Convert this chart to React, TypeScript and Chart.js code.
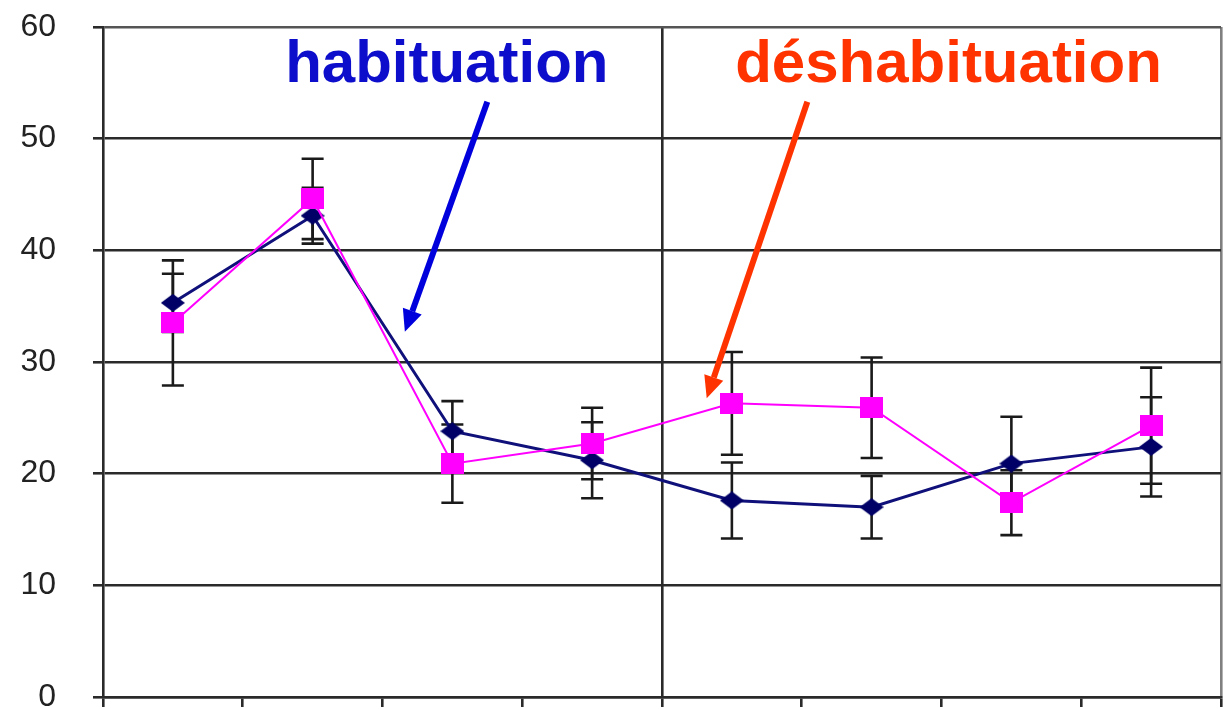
import React, { useEffect, useRef } from "react";
import { Chart, registerables } from "chart.js";

Chart.register(...registerables);

const categories = ["1", "2", "3", "4", "5", "6", "7", "8"];
const habituation = [35.3, 43.1, 23.8, 21.2, 17.6, 17.0, 20.9, 22.4];
const habituationErr = [2.6, 2.5, 2.7, 3.4, 3.4, 2.8, 4.2, 4.45];
const deshabituation = [33.5, 44.6, 20.9, 22.7, 26.3, 25.9, 17.4, 24.3];
const deshabituationErr = [5.6, 3.6, 3.5, 3.2, 4.6, 4.5, 2.9, 5.2];
const yTicks = [0, 10, 20, 30, 40, 50, 60];

const annotations = [
  { text: "habituation", color: "#0d0dcc", arrowColor: "#0000dd", tx: 1.96, ty: 55.07, fromX: 2.25, fromY: 53.3, toX: 1.66, toY: 32.7 },
  { text: "déshabituation", color: "#ff3300", arrowColor: "#ff3300", tx: 5.55, ty: 55.07, fromX: 4.54, fromY: 53.3, toX: 3.82, toY: 26.75 },
];

function makeDiamond(w: number, h: number, color: string) {
  const c = document.createElement("canvas");
  c.width = w;
  c.height = h;
  const g = c.getContext("2d")!;
  g.fillStyle = color;
  g.beginPath();
  g.moveTo(w / 2, 0);
  g.lineTo(w, h / 2);
  g.lineTo(w / 2, h);
  g.lineTo(0, h / 2);
  g.closePath();
  g.fill();
  return c;
}

function makeSquare(w: number, h: number, color: string) {
  const c = document.createElement("canvas");
  c.width = w;
  c.height = h;
  const g = c.getContext("2d")!;
  g.fillStyle = color;
  g.fillRect(0, 0, w, h);
  return c;
}

const errorBarPlugin = {
  id: "errorBars",
  beforeDatasetsDraw(chart: any) {
    const { ctx, scales } = chart;
    const x = scales.x;
    const y = scales.y;
    ctx.save();
    ctx.strokeStyle = "#1a1a1a";
    ctx.lineWidth = 2.6;
    const draw = (vals: number[], errs: number[]) => {
      vals.forEach((v, i) => {
        const px = x.getPixelForValue(i);
        const top = y.getPixelForValue(v + errs[i]);
        const bot = y.getPixelForValue(v - errs[i]);
        ctx.beginPath();
        ctx.moveTo(px, top);
        ctx.lineTo(px, bot);
        ctx.moveTo(px - 11, top);
        ctx.lineTo(px + 11, top);
        ctx.moveTo(px - 11, bot);
        ctx.lineTo(px + 11, bot);
        ctx.stroke();
      });
    };
    draw(habituation, habituationErr);
    draw(deshabituation, deshabituationErr);
    ctx.restore();
  },
};

const annotationPlugin = {
  id: "annots",
  afterDraw(chart: any) {
    const { ctx, scales } = chart;
    const x = scales.x;
    const y = scales.y;
    const px = (v: number) => {
      const a = x.getPixelForValue(0);
      const b = x.getPixelForValue(1);
      return a + (b - a) * v;
    };
    ctx.save();
    annotations.forEach((a) => {
      ctx.font = "bold 60px 'Liberation Sans', Arial, sans-serif";
      ctx.fillStyle = a.color;
      ctx.textAlign = "center";
      ctx.textBaseline = "alphabetic";
      ctx.fillText(a.text, px(a.tx), y.getPixelForValue(a.ty));
      const x1 = px(a.fromX), y1 = y.getPixelForValue(a.fromY);
      const x2 = px(a.toX), y2 = y.getPixelForValue(a.toY);
      const ang = Math.atan2(y2 - y1, x2 - x1);
      const headLen = 22;
      const headW = 10;
      const bx = x2 - Math.cos(ang) * headLen;
      const by = y2 - Math.sin(ang) * headLen;
      ctx.strokeStyle = a.arrowColor;
      ctx.fillStyle = a.arrowColor;
      ctx.lineWidth = 6;
      ctx.lineCap = "butt";
      ctx.beginPath();
      ctx.moveTo(x1, y1);
      ctx.lineTo(bx, by);
      ctx.stroke();
      ctx.beginPath();
      ctx.moveTo(x2, y2);
      ctx.lineTo(bx + Math.sin(ang) * headW, by - Math.cos(ang) * headW);
      ctx.lineTo(bx - Math.sin(ang) * headW, by + Math.cos(ang) * headW);
      ctx.closePath();
      ctx.fill();
    });
    ctx.restore();
  },
};

export default function App() {
  const ref = useRef<HTMLCanvasElement | null>(null);
  useEffect(() => {
    if (!ref.current) return;
    const diamond = makeDiamond(24, 18, "#000066");
    const square = makeSquare(23, 21, "#ff00ff");
    const chart = new Chart(ref.current, {
      type: "line",
      data: {
        labels: categories,
        datasets: [
          {
            label: "déshabituation",
            data: deshabituation,
            borderColor: "#ff00ff",
            borderWidth: 2,
            pointStyle: square as any,
            pointRadius: 11,
            tension: 0,
          },
          {
            label: "habituation",
            data: habituation,
            borderColor: "#10107a",
            borderWidth: 3,
            pointStyle: diamond as any,
            pointRadius: 11,
            tension: 0,
          },
        ],
      },
      options: {
        animation: false,
        responsive: false,
        devicePixelRatio: 1,
        layout: { autoPadding: false, padding: { top: 27, right: 6, left: 0, bottom: 0 } },
        plugins: { legend: { display: false }, tooltip: { enabled: false } },
        scales: {
          x: {
            type: "category",
            offset: true,
            ticks: { display: false },
            grid: {
              offset: true,
              drawOnChartArea: true,
              drawTicks: true,
              tickLength: 10,
              lineWidth: 2.6,
              tickColor: "#2a2a2a",
              color: (c: any) => (c.index === 4 ? "#2a2a2a" : c.index === undefined ? "#808080" : "rgba(0,0,0,0)"),
            },
            border: { display: true, color: "#2a2a2a", width: 2.6 },
            afterFit: (s: any) => {
              s.height = 12;
              s.paddingLeft = 0;
              s.paddingRight = 0;
            },
          },
          y: {
            min: 0,
            max: 60,
            afterBuildTicks: (s: any) => {
              s.ticks = yTicks.map((v) => ({ value: v }));
            },
            ticks: {
              padding: 37,
              color: "#222",
              font: { size: 32, family: "'Liberation Sans', Arial, sans-serif" },
            },
            grid: {
              tickLength: 10,
              lineWidth: 2.6,
              color: (c: any) => (c.tick && c.tick.value === 60 ? "#555" : "#2a2a2a"),
              tickColor: "#2a2a2a",
            },
            border: { display: true, color: "#2a2a2a", width: 2.6 },
            afterFit: (s: any) => {
              s.width = 103;
              s.paddingTop = 0;
              s.paddingBottom = 0;
            },
          },
        },
      },
      plugins: [errorBarPlugin, annotationPlugin],
    });
    return () => chart.destroy();
  }, []);
  return (
    <div style={{ position: "absolute", left: 0, top: 0, width: 1227, height: 709, background: "#fff" }}>
      <canvas ref={ref} width={1227} height={709} style={{ display: "block" }} />
    </div>
  );
}
